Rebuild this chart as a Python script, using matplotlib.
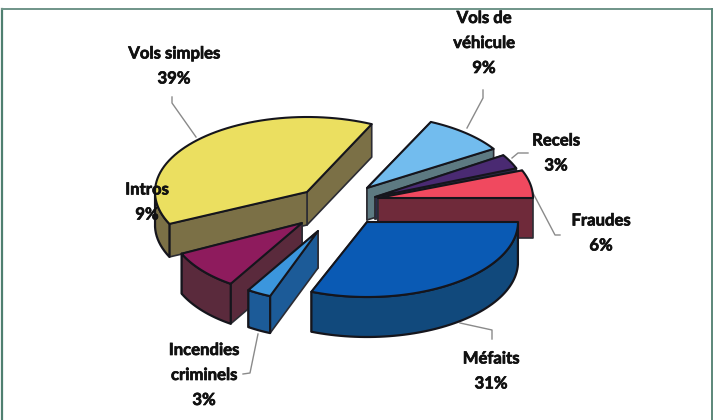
import numpy as np
import matplotlib
matplotlib.use("Agg")
import matplotlib.pyplot as plt
import matplotlib.patheffects as pe
from matplotlib.patches import Polygon

# values in percent, clockwise from the top right
categories = ["Vols de\nvéhicule", "Recels", "Fraudes", "Méfaits",
              "Incendies\ncriminels", "Intros", "Vols simples"]
values = [9, 3, 6, 31, 3, 9, 39]

top_colors = ["#72bcee", "#4a2a72", "#f0495f", "#0a5ab4", "#3b96dd", "#8e1b5d", "#ebdf60"]
wall_colors = ["#5d7a82", "#2b2a4a", "#6f2a3a", "#11497c", "#1c5b98", "#5a2a3c", "#7b7046"]

# layout in image pixels: slice tip, ellipse radii, depth of the side wall
tips = [(367, 188), (375, 197), (378, 198), (367, 222), (318, 231), (302, 223), (307, 192)]
radii = [(150, 73), (152, 78), (155, 75), (151, 75), (130, 70), (133, 72), (152, 75)]
depths = [32, 22, 40, 40, 37, 40, 33]
draw_order = [0, 1, 2, 6, 5, 4, 3]
start_angle = 295.2

label_pos = [(484, 43), (556, 153), (601, 233), (491, 371), (204, 375), (147, 202), (174, 66)]
leaders = [
    [(483, 90), (483, 98), (467, 128)],
    [(528, 153), (518, 153), (512, 158)],
    [(533, 193), (555, 235), (560, 235)],
    [(460, 323), (492, 330), (492, 339)],
    [(258, 334), (250, 373), (243, 374)],
    [],
    [(172, 97), (172, 103), (196, 137)],
]

fig = plt.figure(figsize=(7.16, 4.2), dpi=100)
ax = fig.add_axes([0, 0, 1, 1])
ax.set_xlim(0, 716)
ax.set_ylim(420, 0)
ax.axis("off")

# scanned frame of the chart
ax.plot([2, 2], [420, 9], color="#4f7f70", lw=1.6)
ax.plot([2, 712], [9, 9], color="#6f9488", lw=1.4)
ax.plot([712, 712], [9, 420], color="#5b8779", lw=1.4)

for xy in leaders:
    if xy:
        ax.plot(*zip(*xy), color="#8a8a8a", lw=1, zorder=1)

angles = start_angle + np.cumsum([0] + values) * 3.6

z = 2
for i in draw_order:
    a0, a1 = np.radians(angles[i]), np.radians(angles[i + 1])
    phi = np.linspace(a0, a1, 60)
    cx, cy = tips[i]
    rx, ry = radii[i]
    d = depths[i]
    arc = np.column_stack([cx + rx * np.cos(phi), cy + ry * np.sin(phi)])
    tip = np.array([[cx, cy]])
    down = np.array([0, d])

    # radial walls first (nearest edge last), then the curved wall, then the top face
    for end in sorted((arc[0], arc[-1]), key=lambda p: p[1]):
        wall = np.array([[cx, cy], end, end + down, [cx, cy + d]])
        ax.add_patch(Polygon(wall, fc=wall_colors[i], ec="#2c2c33", lw=1.2, joinstyle="round", zorder=z))
    front = np.sin(phi) > 0
    if front.any():
        seg = arc[front]
        wall = np.vstack([seg, seg[::-1] + down])
        ax.add_patch(Polygon(wall, fc=wall_colors[i], ec="#15151c", lw=1.6, joinstyle="round", zorder=z))
    ax.add_patch(Polygon(np.vstack([tip, arc]), fc=top_colors[i], ec="#15151c", lw=1.5, joinstyle="round", zorder=z + 1))
    z += 2

for name, val, (x, y) in zip(categories, values, label_pos):
    lines = name.split("\n") + ["%d%%" % val]
    step = 25
    y0 = y - step * (len(lines) - 1) / 2
    for k, line in enumerate(lines):
        ax.text(x, y0 + k * step, line, ha="center", va="center", family="Lato",
                fontweight="bold", fontsize=12, color="#111111", zorder=40,
                path_effects=[pe.withStroke(linewidth=0.5, foreground="#111111")])

fig.savefig("out.png", dpi=100, facecolor="white")
